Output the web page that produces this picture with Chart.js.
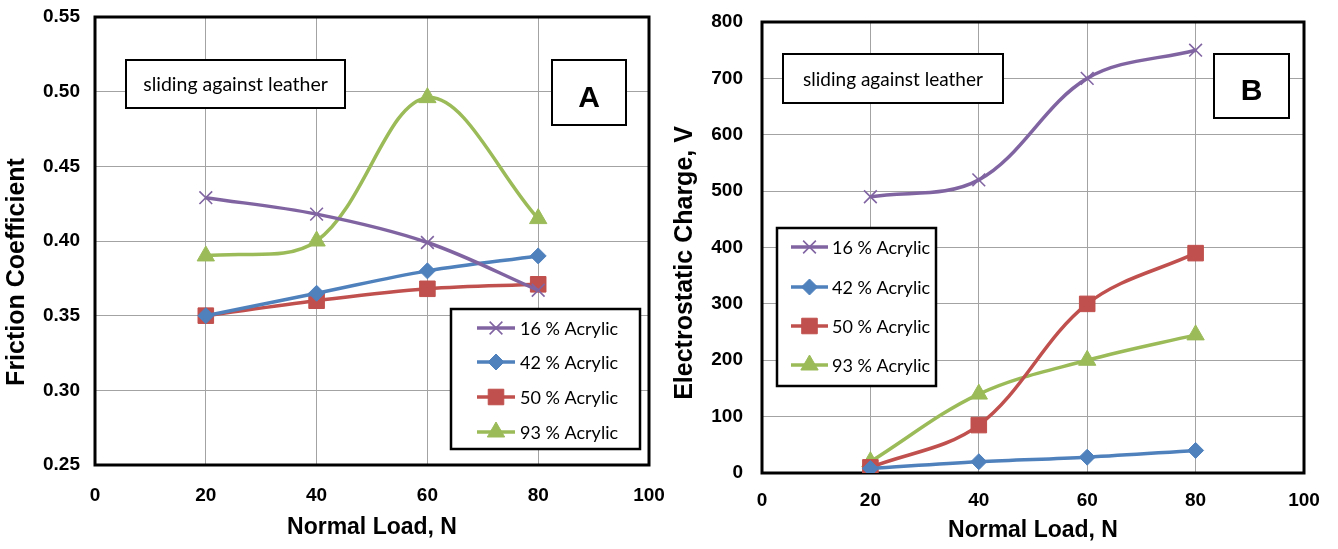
<!DOCTYPE html>
<html><head><meta charset="utf-8">
<script src="https://cdn.jsdelivr.net/npm/chart.js@4.4.1/dist/chart.umd.min.js"></script>
<style>
html,body{margin:0;padding:0;background:#fff;overflow:hidden}
#wrapA{position:absolute;left:0;top:0;width:669px;height:549px}
#wrapB{position:absolute;left:669px;top:0;width:669px;height:549px}
</style></head><body>
<div id="wrapA"><canvas id="cA" width="669" height="549"></canvas></div>
<div id="wrapB"><canvas id="cB" width="669" height="549"></canvas></div>
<script>
// ---- data ----
const normalLoad = [20, 40, 60, 80];
const seriesNames = ['16 % Acrylic', '42 % Acrylic', '50 % Acrylic', '93 % Acrylic'];
const friction16 = [0.429, 0.418, 0.399, 0.367];
const friction42 = [0.350, 0.365, 0.380, 0.390];
const friction50 = [0.350, 0.360, 0.368, 0.371];
const friction93 = [0.390, 0.400, 0.496, 0.415];
const charge16 = [490, 520, 700, 750];
const charge42 = [8, 20, 28, 40];
const charge50 = [10, 85, 300, 390];
const charge93 = [20, 140, 200, 245];
const loadTicks = [0, 20, 40, 60, 80, 100];
const frictionTicks = [0.25, 0.30, 0.35, 0.40, 0.45, 0.50, 0.55];
const chargeTicks = [0, 100, 200, 300, 400, 500, 600, 700, 800];
const noteText = 'sliding against leather';
const xTitle = 'Normal Load, N';
const yTitleA = 'Friction Coefficient';
const yTitleB = 'Electrostatic Charge, V';

// ---- styles ----
const seriesColors = ['#8064A2', '#4F81BD', '#C0504D', '#9BBB59'];
const seriesMarkers = ['crossRot', 'rectRot', 'rect', 'triangle'];
const markerRadius = [9, 8, 11, 10];
const markerBorder = [1.6, 1, 1, 1];
const tickFont = {family: '"Liberation Sans", Arial, sans-serif', size: 19, weight: 'bold'};
const legendFamily = 'Lato, "Open Sans", sans-serif';

function makeDatasets(arrays) {
  return arrays.map((arr, i) => ({
    label: seriesNames[i],
    data: normalLoad.map((x, k) => ({x: x, y: arr[k]})),
    borderColor: seriesColors[i],
    backgroundColor: seriesColors[i],
    borderWidth: 3.5,
    tension: 0.35,
    pointStyle: seriesMarkers[i],
    pointRadius: markerRadius[i],
    pointBorderWidth: markerBorder[i],
    pointBackgroundColor: seriesColors[i],
    pointBorderColor: seriesColors[i]
  }));
}

function drawMarker(ctx, i, x, y) {
  ctx.save();
  ctx.fillStyle = seriesColors[i];
  ctx.strokeStyle = seriesColors[i];
  ctx.lineWidth = markerBorder[i];
  Chart.helpers.drawPoint(ctx, {pointStyle: seriesMarkers[i], radius: markerRadius[i], rotation: 0, borderWidth: markerBorder[i]}, x, y);
  ctx.restore();
}

const notesPlugin = {
  id: 'notes',
  beforeDatasetsDraw(chart) {
    const {ctx, chartArea: a} = chart;
    ctx.save();
    ctx.strokeStyle = '#000';
    ctx.lineWidth = 3;
    ctx.strokeRect(a.left, a.top, a.right - a.left, a.bottom - a.top);
    ctx.restore();
  },
  afterDatasetsDraw(chart, args, o) {
    const ctx = chart.ctx;
    ctx.save();
    // note box
    const n = o.note;
    ctx.fillStyle = '#fff'; ctx.strokeStyle = '#000'; ctx.lineWidth = 2;
    ctx.fillRect(n.x0, n.y0, n.x1 - n.x0, n.y1 - n.y0);
    ctx.strokeRect(n.x0, n.y0, n.x1 - n.x0, n.y1 - n.y0);
    ctx.fillStyle = '#000';
    ctx.font = o.noteSize + 'px ' + legendFamily;
    ctx.textAlign = 'center'; ctx.textBaseline = 'middle';
    ctx.fillText(noteText, (n.x0 + n.x1) / 2, n.ty);
    // letter box
    const l = o.letter;
    ctx.fillStyle = '#fff';
    ctx.fillRect(l.x0, l.y0, l.x1 - l.x0, l.y1 - l.y0);
    ctx.strokeRect(l.x0, l.y0, l.x1 - l.x0, l.y1 - l.y0);
    ctx.fillStyle = '#000';
    ctx.font = 'bold 30px "Liberation Sans", Arial, sans-serif';
    ctx.textAlign = 'center'; ctx.textBaseline = 'alphabetic';
    ctx.fillText(l.text, (l.x0 + l.x1) / 2, l.base);
    // legend box
    const g = o.legend;
    ctx.fillStyle = '#fff'; ctx.lineWidth = 2.5;
    ctx.fillRect(g.x0, g.y0, g.x1 - g.x0, g.y1 - g.y0);
    ctx.strokeRect(g.x0, g.y0, g.x1 - g.x0, g.y1 - g.y0);
    chart.data.datasets.forEach((ds, i) => {
      const y = g.rows[i];
      ctx.strokeStyle = ds.borderColor; ctx.lineWidth = 3.5;
      ctx.beginPath(); ctx.moveTo(g.s0, y); ctx.lineTo(g.s1, y); ctx.stroke();
      drawMarker(ctx, i, (g.s0 + g.s1) / 2, y);
      ctx.fillStyle = '#000';
      ctx.font = o.legendSize + 'px ' + legendFamily;
      ctx.textAlign = 'left'; ctx.textBaseline = 'middle';
      ctx.fillText(ds.label, g.tx, y + 1);
    });
    // y title
    const t = o.yTitle;
    ctx.save();
    ctx.translate(t.x, t.y);
    ctx.rotate(-Math.PI / 2);
    ctx.fillStyle = '#000';
    ctx.font = 'bold 25px "Liberation Sans", Arial, sans-serif';
    ctx.textAlign = 'center'; ctx.textBaseline = 'alphabetic';
    ctx.fillText(t.text, 0, 0);
    ctx.restore();
    ctx.restore();
  }
};

function makeChart(id, arrays, yTicks, fmt, geo, notes) {
  return new Chart(document.getElementById(id), {
    type: 'line',
    data: {datasets: makeDatasets(arrays)},
    plugins: [notesPlugin],
    options: {
      responsive: false,
      animation: false,
      layout: {padding: {top: geo.top, right: geo.right, left: 0, bottom: 0}},
      plugins: {legend: {display: false}, tooltip: {enabled: false}, notes: notes},
      scales: {
        x: {
          type: 'linear', min: 0, max: 100,
          afterBuildTicks: s => { s.ticks = loadTicks.map(v => ({value: v})); },
          afterFit: s => { s.height = geo.xh; },
          grid: {color: '#a3a3a3', lineWidth: 1, drawTicks: true, tickLength: geo.xpad, tickColor: 'rgba(0,0,0,0)'},
          border: {display: false},
          ticks: {font: tickFont, color: '#000', padding: 0, maxRotation: 0, callback: v => String(v)},
          title: {display: true, text: xTitle, color: '#000', padding: {top: 0, bottom: geo.xtp},
                  font: {family: '"Liberation Sans", Arial, sans-serif', size: 23, weight: 'bold'}}
        },
        y: {
          type: 'linear', min: yTicks[0], max: yTicks[yTicks.length - 1],
          afterBuildTicks: s => { s.ticks = yTicks.map(v => ({value: v})); },
          afterFit: s => { s.width = geo.yw; },
          grid: {color: '#a3a3a3', lineWidth: 1, drawTicks: true, tickLength: geo.ypad, tickColor: 'rgba(0,0,0,0)'},
          border: {display: false},
          ticks: {font: tickFont, color: '#000', padding: 0, callback: fmt}
        }
      }
    }
  });
}

makeChart('cA', [friction16, friction42, friction50, friction93], frictionTicks, v => v.toFixed(2),
  {top: 17, right: 20, xh: 84, yw: 95, xpad: 19, ypad: 15, xtp: 8},
  {
    note: {x0: 126, y0: 60, x1: 345, y1: 108, ty: 85},
    noteSize: 19.5,
    letter: {x0: 552, y0: 60, x1: 626, y1: 125, text: 'A', base: 107},
    legend: {x0: 451, y0: 309, x1: 640, y1: 449, rows: [328, 362, 397, 432], s0: 477, s1: 515, tx: 520},
    legendSize: 18,
    yTitle: {x: 24, y: 272, text: yTitleA}
  });

makeChart('cB', [charge16, charge42, charge50, charge93], chargeTicks, v => String(v),
  {top: 22, right: 34, xh: 76, yw: 93, xpad: 16, ypad: 19, xtp: 5},
  {
    note: {x0: 114, y0: 54, x1: 334, y1: 103, ty: 80},
    noteSize: 19,
    letter: {x0: 545, y0: 54, x1: 620, y1: 118, text: 'B', base: 100},
    legend: {x0: 108, y0: 228, x1: 267, y1: 386, rows: [247, 287, 326, 365], s0: 122, s1: 159, tx: 163},
    legendSize: 18,
    yTitle: {x: 23, y: 263, text: yTitleB}
  });
</script>
</body></html>
